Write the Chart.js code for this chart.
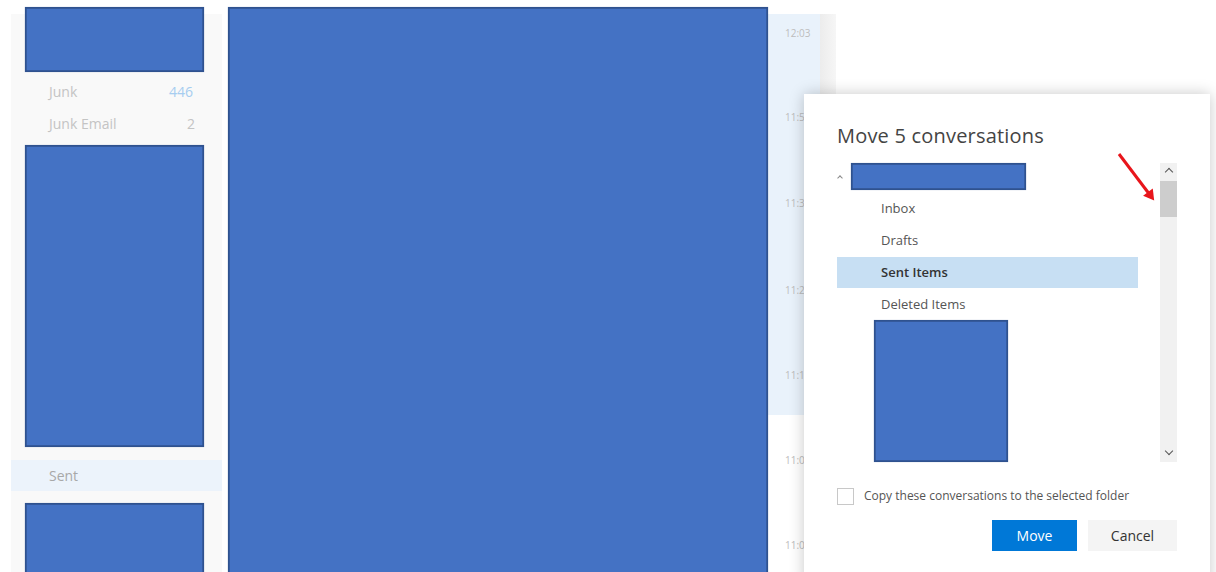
<!DOCTYPE html>
<html>
<head>
<meta charset="utf-8">
<title>Move 5 conversations</title>
<script src="https://cdn.jsdelivr.net/npm/chart.js@4/dist/chart.umd.min.js"></script>
<style>
  body { margin: 0; width: 1216px; height: 572px; overflow: hidden; background: #fff; position: relative; font-family: "Open Sans", "Noto Sans", sans-serif; }
  .abs { position: absolute; white-space: nowrap; }
  .t { line-height: 20px; }
  #overlay { position: absolute; left: 0; top: 0; pointer-events: none; }
  .chev { position: absolute; width: 5px; height: 5px; border-left: 1.5px solid #555; border-top: 1.5px solid #555; }
</style>
</head>
<body>

<!-- folder pane -->
<div class="abs" style="left:11px;top:14px;width:211px;height:558px;background:#f9f9f9"></div>
<div class="abs" style="left:11px;top:460px;width:211px;height:31px;background:#ecf3fb"></div>
<div class="abs t" style="left:49px;top:82px;font-size:14px;color:#c4c4c4">Junk</div>
<div class="abs t" style="left:169px;top:82px;font-size:14px;color:#a6cdf0">446</div>
<div class="abs t" style="left:49px;top:114px;font-size:14px;color:#c4c4c4">Junk Email</div>
<div class="abs t" style="left:187px;top:114px;font-size:14px;color:#c4c4c4">2</div>
<div class="abs t" style="left:49px;top:466px;font-size:14px;color:#a8a8a8">Sent</div>

<!-- message list time column -->
<div class="abs" style="left:768px;top:14px;width:54px;height:401px;background:#e9f2fb"></div>
<div class="abs" style="left:820px;top:14px;width:16px;height:558px;background:linear-gradient(to right,#ececec,#f6f6f6)"></div>
<div class="abs t" style="left:785px;top:23px;font-size:10px;color:#bdbdbd">12:03</div>
<div class="abs t" style="left:785px;top:107px;font-size:10px;color:#bdbdbd">11:5</div>
<div class="abs t" style="left:785px;top:193px;font-size:10px;color:#bdbdbd">11:3</div>
<div class="abs t" style="left:785px;top:280px;font-size:10px;color:#bdbdbd">11:2</div>
<div class="abs t" style="left:785px;top:365px;font-size:10px;color:#bdbdbd">11:1</div>
<div class="abs t" style="left:785px;top:450px;font-size:10px;color:#bdbdbd">11:0</div>
<div class="abs t" style="left:785px;top:535px;font-size:10px;color:#bdbdbd">11:0</div>

<!-- dialog -->
<div class="abs" style="left:804px;top:94px;width:406px;height:490px;background:#fff;box-shadow:0 0 14px rgba(0,0,0,0.22)"></div>
<div class="abs" style="left:837px;top:122px;font-size:20px;line-height:28px;color:#444;letter-spacing:0.2px">Move 5 conversations</div>
<div class="chev" style="left:838px;top:176px;width:3px;height:3px;transform:rotate(45deg);border-color:#888"></div>
<div class="abs t" style="left:881px;top:198px;font-size:13px;color:#555">Inbox</div>
<div class="abs t" style="left:881px;top:230px;font-size:13px;color:#555">Drafts</div>
<div class="abs" style="left:837px;top:257px;width:301px;height:31px;background:#c7dff3"></div>
<div class="abs t" style="left:881px;top:262px;font-size:13px;color:#333;font-weight:600">Sent Items</div>
<div class="abs t" style="left:881px;top:294px;font-size:13px;color:#555">Deleted Items</div>

<!-- scrollbar -->
<div class="abs" style="left:1160px;top:163px;width:17px;height:299px;background:#f1f1f1"></div>
<div class="abs" style="left:1160px;top:181px;width:17px;height:36px;background:#cdcdcd"></div>
<div class="chev" style="left:1166px;top:169px;transform:rotate(45deg)"></div>
<div class="chev" style="left:1166px;top:448px;transform:rotate(225deg)"></div>

<!-- checkbox and buttons -->
<div class="abs" style="left:837px;top:488px;width:15px;height:15px;border:1px solid #c8c8c8;background:#fff"></div>
<div class="abs t" style="left:864px;top:486px;font-size:12px;color:#555">Copy these conversations to the selected folder</div>
<div class="abs" style="left:992px;top:520px;width:85px;height:31px;background:#0078d7;color:#fff;font-size:14px;line-height:31px;text-align:center">Move</div>
<div class="abs" style="left:1088px;top:520px;width:89px;height:31px;background:#f4f4f4;color:#333;font-size:14px;line-height:31px;text-align:center">Cancel</div>

<canvas id="overlay" width="1216" height="572"></canvas>

<script>
// redaction boxes, in screenshot pixels
const boxNames = ["folderTop", "folderMid", "folderBottom", "messageList", "accountName", "subFolders"];
const boxLeft = [25, 25, 25, 228, 851, 874];
const boxRight = [204, 204, 204, 768, 1026, 1008];
const boxTop = [7, 145, 503, 7, 163, 320];
const boxBottom = [72, 447, 584, 584, 190, 462];

// red arrow pointing at the scrollbar
const arrowX = [1119, 1150];
const arrowY = [154, 195];

const boxSets = boxNames.map((name, i) => ({
  type: "bar",
  label: name,
  data: [{ x: (boxLeft[i] + boxRight[i]) / 2, y: [boxTop[i], boxBottom[i]] }],
  barThickness: boxRight[i] - boxLeft[i],
  backgroundColor: "#4472c4",
  borderColor: "#2f528f",
  borderWidth: 2,
  borderSkipped: false,
  grouped: false,
}));

const arrowSet = {
  type: "line",
  label: "arrow",
  data: arrowX.map((x, i) => ({ x: x, y: arrowY[i] })),
  borderColor: "#e8151b",
  backgroundColor: "#e8151b",
  borderWidth: 3,
  pointStyle: "triangle",
  pointRadius: [0, 7],
  pointRotation: [0, 143],
  pointBorderWidth: 0,
};

new Chart(document.getElementById("overlay"), {
  type: "bar",
  data: { datasets: [...boxSets, arrowSet] },
  options: {
    responsive: false,
    animation: false,
    events: [],
    layout: { padding: 0, autoPadding: false },
    scales: {
      x: { type: "linear", min: 0, max: 1216, offset: false, display: false },
      y: { type: "linear", min: 0, max: 572, reverse: true, display: false },
    },
    plugins: {
      legend: { display: false },
      tooltip: { enabled: false },
    },
  },
});
</script>
</body>
</html>
